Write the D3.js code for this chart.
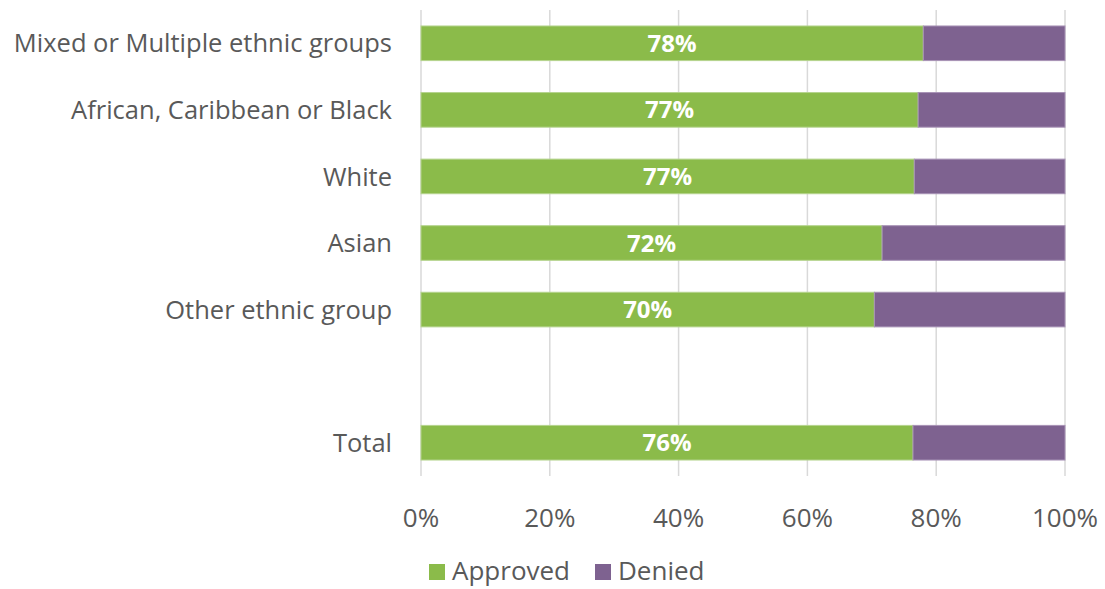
<!DOCTYPE html>
<html>
<head>
<meta charset="utf-8">
<script src="https://cdn.jsdelivr.net/npm/d3@7"></script>
<style>
  html, body { margin: 0; padding: 0; background: #fff; }
  svg { display: block; font-family: "Open Sans", sans-serif; }
</style>
</head>
<body>
<svg id="chart" width="1105" height="589"></svg>
<script>
// Ethnic group categories, top to bottom ("" is a spacer row before Total)
const categories = ["Mixed or Multiple ethnic groups", "African, Caribbean or Black", "White", "Asian", "Other ethnic group", "", "Total"];
// Share approved (%) per category; null for the spacer row
const approved = [78.0, 77.2, 76.6, 71.6, 70.4, null, 76.4];
const seriesNames = ["Approved", "Denied"];
const xTicks = [0, 20, 40, 60, 80, 100];

const colors = { Approved: "#8BBB4A", Denied: "#7E6290" };
const strokes = { Approved: "#B5D48E", Denied: "#A893B6" };
const textColor = "#595959";

const svg = d3.select("#chart");
const margin = { left: 421, right: 40, top: 10, bottom: 113 };
const W = 1105, H = 589;

const x = d3.scaleLinear().domain([0, 100]).range([margin.left, W - margin.right]);
const y = d3.scaleBand().domain(categories.map((c, i) => i)).range([margin.top, H - margin.bottom]).paddingInner(0.48).paddingOuter(0.24);

// vertical gridlines
svg.append("g").selectAll("line").data(xTicks).join("line")
  .attr("x1", d => x(d)).attr("x2", d => x(d))
  .attr("y1", margin.top).attr("y2", H - margin.bottom)
  .attr("stroke", "#D9D9D9").attr("stroke-width", 1.5);

const rows = categories.map((c, i) => ({ i, c, a: approved[i] })).filter(d => d.a !== null);

// stacked bars
const bars = svg.append("g");
bars.selectAll("rect.approved").data(rows).join("rect")
  .attr("class", "approved")
  .attr("x", x(0)).attr("y", d => y(d.i))
  .attr("width", d => x(d.a) - x(0)).attr("height", y.bandwidth())
  .attr("fill", colors.Approved).attr("stroke", strokes.Approved).attr("stroke-width", 1);
bars.selectAll("rect.denied").data(rows).join("rect")
  .attr("class", "denied")
  .attr("x", d => x(d.a)).attr("y", d => y(d.i))
  .attr("width", d => x(100) - x(d.a)).attr("height", y.bandwidth())
  .attr("fill", colors.Denied).attr("stroke", strokes.Denied).attr("stroke-width", 1);

// value labels on approved segments
bars.selectAll("text").data(rows).join("text")
  .attr("x", d => (x(0) + x(d.a)) / 2)
  .attr("y", d => y(d.i) + y.bandwidth() / 2)
  .attr("dy", "0.36em")
  .attr("text-anchor", "middle")
  .attr("fill", "#fff").attr("font-weight", "bold").attr("font-size", 24)
  .text(d => Math.round(d.a) + "%");

// category labels
svg.append("g").selectAll("text").data(rows).join("text")
  .attr("x", 392).attr("y", d => y(d.i) + y.bandwidth() / 2)
  .attr("dy", "0.36em").attr("text-anchor", "end")
  .attr("fill", textColor).attr("font-size", 25.5)
  .text(d => d.c);

// x axis tick labels
svg.append("g").selectAll("text").data(xTicks).join("text")
  .attr("x", d => x(d)).attr("y", 518).attr("dy", "0.36em")
  .attr("text-anchor", "middle").attr("fill", textColor).attr("font-size", 26)
  .text(d => d + "%");

// legend
const legend = svg.append("g");
const legendX = [429, 595];
seriesNames.forEach((s, k) => {
  legend.append("rect").attr("x", legendX[k]).attr("y", 564).attr("width", 16).attr("height", 16).attr("fill", colors[s]);
  legend.append("text").attr("x", legendX[k] + 23).attr("y", 571).attr("dy", "0.36em")
    .attr("fill", textColor).attr("font-size", 26).text(s);
});
</script>
</body>
</html>
